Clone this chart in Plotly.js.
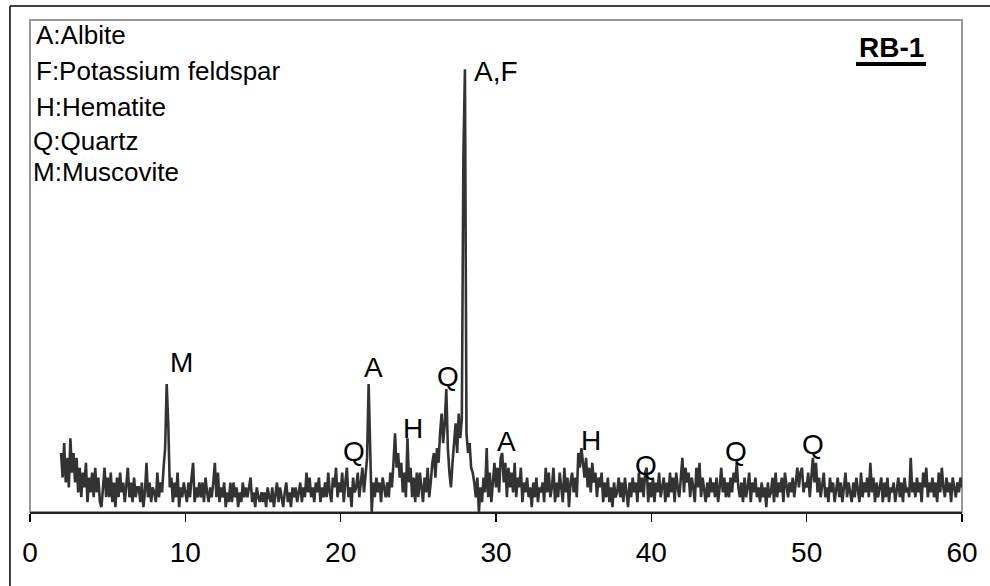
<!DOCTYPE html>
<html>
<head>
<meta charset="utf-8">
<script src="https://cdn.plot.ly/plotly-3.0.1.min.js"></script>
<style>
  html, body { margin: 0; padding: 0; background: #fff; }
  #chart { width: 990px; height: 586px; }
</style>
</head>
<body>
<div id="chart"></div>
<script>
// Scan grid (degrees 2-theta)
const SCAN_START = 2.0;
const SCAN_STEP = 0.1;

// Relative intensity, one row per degree (x.0 ... x.9)
const intensity = [
  12, 7, 14, 6, 11, 5, 15, 8, 12, 6,      // 2
  11, 4, 9, 3, 8, 5, 10, 2, 7, 4,         // 3
  8, 3, 9, 4, 7, 2, 1, 6, 9, 3,           // 4
  7, 3, 8, 2, 6, 1, 7, 3, 8, 4,           // 5
  6, 2, 5, 9, 3, 6, 2, 7, 3, 5,           // 6
  5, 2, 6, 1, 4, 10, 3, 6, 2, 5,          // 7
  4, 2, 8, 3, 6, 4, 9, 13, 26, 18,        // 8
  5, 7, 2, 6, 3, 8, 1, 5, 3, 6,           // 9
  4, 2, 6, 3, 7, 10, 2, 5, 3, 6,          // 10
  3, 6, 2, 7, 4, 2, 5, 3, 6, 10,          // 11
  3, 8, 2, 5, 3, 6, 1, 4, 2, 6,           // 12
  2, 6, 3, 5, 1, 4, 2, 6, 3, 5,           // 13
  3, 5, 7, 2, 4, 1, 5, 3, 2, 4,           // 14
  2, 4, 1, 5, 3, 2, 5, 1, 4, 6,           // 15
  2, 5, 3, 1, 4, 6, 2, 4, 1, 5,           // 16
  3, 5, 2, 4, 6, 2, 5, 3, 8, 4,           // 17
  7, 3, 5, 2, 6, 4, 7, 2, 5, 3,           // 18
  6, 3, 8, 4, 2, 7, 5, 9, 3, 6,           // 19
  4, 8, 2, 6, 9, 3, 5, 1, 7, 4,           // 20
  5, 8, 3, 6, 9, 4, 7, 11, 26, 10,        // 21
  0, 6, 3, 7, 4, 6, 2, 7, 5, 3,           // 22
  6, 3, 8, 5, 10, 16, 9, 12, 7, 10,       // 23
  4, 8, 3, 15, 6, 9, 3, 7, 2, 8,          // 24
  3, 8, 5, 2, 7, 4, 9, 3, 6, 10,          // 25
  12, 7, 13, 10, 16, 20, 14, 18, 25, 13,  // 26
  8, 5, 10, 14, 18, 12, 20, 15, 19, 72,   // 27
  90, 16, 12, 14, 9, 8, 6, 3, 7, 0,       // 28
  5, 2, 7, 4, 13, 3, 8, 2, 6, 10,         // 29
  5, 9, 4, 11, 12, 6, 10, 3, 9, 5,        // 30
  8, 4, 10, 3, 7, 5, 9, 2, 6, 4,          // 31
  7, 3, 5, 1, 6, 3, 7, 2, 5, 4,           // 32
  6, 2, 9, 4, 8, 3, 5, 9, 2, 6,           // 33
  3, 8, 5, 2, 9, 4, 7, 1, 6, 8,           // 34
  4, 7, 3, 12, 9, 13, 10, 7, 11, 5,       // 35
  9, 4, 10, 6, 8, 3, 7, 5, 8, 2,          // 36
  6, 3, 7, 2, 5, 1, 6, 3, 4, 7,           // 37
  3, 6, 2, 7, 4, 1, 6, 3, 7, 4,           // 38
  6, 2, 8, 4, 7, 3, 8, 9, 2, 6,           // 39
  3, 7, 2, 6, 4, 8, 3, 5, 7, 2,           // 40
  6, 3, 8, 4, 7, 2, 8, 5, 3, 7,           // 41
  11, 4, 9, 6, 8, 3, 7, 5, 2, 9,          // 42
  5, 10, 3, 7, 4, 2, 6, 3, 7, 4,          // 43
  6, 3, 7, 2, 5, 9, 4, 7, 3, 6,           // 44
  3, 7, 4, 8, 6, 10, 5, 3, 6, 2,          // 45
  7, 3, 5, 8, 2, 6, 4, 7, 3, 5,           // 46
  2, 6, 3, 5, 1, 6, 3, 4, 7, 2,           // 47
  8, 3, 6, 4, 7, 2, 8, 5, 3, 6,           // 48
  4, 7, 3, 6, 9, 5, 8, 9, 4, 6,           // 49
  5, 8, 3, 7, 11, 6, 10, 4, 7, 3,         // 50
  6, 8, 3, 5, 2, 7, 4, 6, 2, 5,           // 51
  7, 3, 6, 2, 5, 8, 3, 6, 4, 2,           // 52
  6, 3, 7, 4, 2, 8, 3, 6, 4, 7,           // 53
  3, 10, 4, 7, 2, 6, 3, 5, 7, 2,          // 54
  6, 3, 7, 2, 5, 4, 6, 2, 5, 7,           // 55
  3, 6, 2, 7, 4, 5, 3, 11, 4, 6,          // 56
  3, 7, 4, 6, 2, 8, 5, 9, 3, 6,           // 57
  4, 7, 3, 6, 2, 8, 4, 9, 5, 3,           // 58
  7, 4, 6, 2, 7, 5, 3, 6, 4, 7,           // 59
  5                                       // 60
];

// Phase key
const legendLines = ["A:Albite", "F:Potassium feldspar", "H:Hematite", "Q:Quartz", "M:Muscovite"];
const legendY = [0.969, 0.896, 0.823, 0.754, 0.691];
const legendX = [0.004, 0.004, 0.004, 0.001, 0.001];

// Peak labels (2-theta, intensity)
const peakText = ["M", "A,F", "A", "Q", "H", "Q", "A", "H", "Q", "Q", "Q"];
const peakX    = [9.77, 28.44, 22.09, 26.9, 24.65, 20.84, 30.7, 36.14, 39.68, 45.48, 50.39];
const peakY    = [30.4, 89.5, 29.3, 27.6, 17.0, 12.2, 14.4, 14.5, 9.55, 12.2, 13.8];
const peakAnchor = ["center", "left", "center", "center", "center", "center", "center", "center", "center", "center", "center"];

const sampleName = "RB-1";
const xTicks = [0, 10, 20, 30, 40, 50, 60];

const FONT = "Liberation Sans, Arial, Helvetica, sans-serif";

const trace = {
  type: "scatter",
  mode: "lines",
  x0: SCAN_START,
  dx: SCAN_STEP,
  y: intensity,
  line: { color: "#333333", width: 2.6 },
  hoverinfo: "skip"
};

const annotations = [];
legendLines.forEach((t, i) => {
  annotations.push({
    text: t, xref: "paper", yref: "paper", x: legendX[i], y: legendY[i],
    xanchor: "left", yanchor: "middle", showarrow: false,
    font: { family: FONT, size: 26, color: "#000" }
  });
});
peakText.forEach((t, i) => {
  annotations.push({
    text: t, xref: "x", yref: "y", x: peakX[i], y: peakY[i],
    xanchor: peakAnchor[i], yanchor: "middle", showarrow: false,
    font: { family: FONT, size: 28, color: "#000" }
  });
});
annotations.push({
  text: "<b>" + sampleName + "</b>", xref: "paper", yref: "paper", x: 0.924, y: 0.945,
  xanchor: "center", yanchor: "middle", showarrow: false,
  font: { family: FONT, size: 28, color: "#000" }
});

const shapes = [
  // plot area frame (gray)
  { type: "rect", xref: "paper", yref: "paper", x0: 0, x1: 1, y0: 0, y1: 1,
    line: { color: "#999999", width: 2 }, layer: "below" },
  // outer chart frame (left and top edges visible)
  { type: "line", xref: "paper", yref: "paper", x0: -0.0215, x1: -0.0215, y0: -0.2, y1: 1.0285,
    line: { color: "#000", width: 1.5 } },
  { type: "line", xref: "paper", yref: "paper", x0: -0.0215, x1: 1.1, y0: 1.0285, y1: 1.0285,
    line: { color: "#000", width: 1.5 } },
  // underline of sample name
  { type: "line", xref: "paper", yref: "paper", x0: 0.8863, x1: 0.9614, y0: 0.9106, y1: 0.9106,
    line: { color: "#000", width: 4 } }
];

const layout = {
  width: 990, height: 586,
  margin: { l: 30, r: 28, t: 20, b: 74, pad: 0 },
  paper_bgcolor: "#fff", plot_bgcolor: "#fff",
  showlegend: false,
  xaxis: {
    range: [0, 60], tickvals: xTicks, ticktext: xTicks.map(String),
    ticks: "outside", ticklen: 8, tickwidth: 1.5, tickcolor: "#000",
    showline: true, linecolor: "#222", linewidth: 1.5, mirror: false,
    showgrid: false, zeroline: false,
    tickfont: { family: FONT, size: 28, color: "#000" },
    ticklabelstandoff: 7
  },
  yaxis: {
    range: [0, 100], visible: false, showgrid: false, zeroline: false
  },
  annotations: annotations,
  shapes: shapes
};

Plotly.newPlot("chart", [trace], layout, { staticPlot: true, displayModeBar: false });
</script>
</body>
</html>
